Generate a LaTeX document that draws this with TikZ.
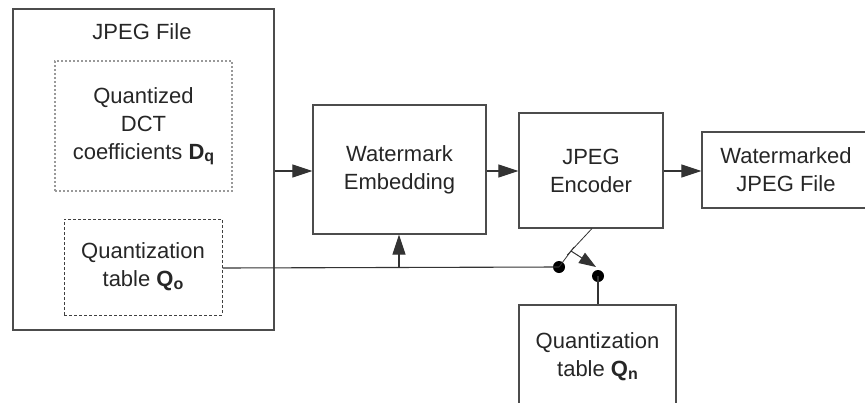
\documentclass[tikz,border=0pt]{standalone}
\usepackage{fontspec}
\setmainfont{Liberation Sans}
\usetikzlibrary{arrows.meta,calc}
\newcommand{\lbl}[2]{\textbf{#1}\raisebox{-2.5pt}{\fontsize{16}{16}\selectfont\bfseries #2}}
\begin{document}
\begin{tikzpicture}[x=1pt,y=-1pt,
  every node/.style={font=\fontsize{22}{28}\selectfont, text=black!85, inner sep=0pt},
  block/.style={draw=black!70, line width=1.3pt, align=center},
  dotbox/.style={draw=black!40, line width=1.4pt, dash pattern=on 2pt off 2pt, align=center},
  dashbox/.style={draw=black!75, line width=1pt, dash pattern=on 3pt off 2pt, align=center},
  wire/.style={draw=black!80, line width=1.1pt},
  flow/.style={wire, -{Triangle[length=20pt,width=13pt]}},
  junction/.style={circle, fill=black, minimum size=12pt, inner sep=0pt}]
  \useasboundingbox (0,0) rectangle (865,402);
  \clip (0,0) rectangle (865,402);

  % input file with its two parts
  \node[block, minimum width=261pt, minimum height=321pt] (file) at (143.5,169.5) {};
  \node (filetitle) at (142,32) {JPEG File};
  \node[dotbox, minimum width=177pt, minimum height=130pt] (dq) at (143.5,126)
    {Quantized\\DCT\\coefficients \lbl{D}{q}};
  \node[dashbox, minimum width=158pt, minimum height=96pt] (qo) at (143,267)
    {Quantization\\table \lbl{Q}{o}};

  % processing chain
  \node[block, minimum width=173pt, minimum height=129pt] (embed) at (399.5,169.5)
    {Watermark\\Embedding};
  \node[block, minimum width=144pt, minimum height=115pt] (enc) at (591,170.5)
    {JPEG\\Encoder};
  \node[block, minimum width=168pt, minimum height=76pt] (out) at (786,170)
    {Watermarked\\JPEG File};
  \node[block, minimum width=157pt, minimum height=104pt] (qn) at (597.5,357)
    {Quantization\\table \lbl{Q}{n}};

  \draw[flow] (file.east |- 0,171) -- (embed.west |- 0,171);
  \draw[flow] (embed.east |- 0,171) -- (enc.west |- 0,171);
  \draw[flow] (enc.east |- 0,171) -- (out.west |- 0,171);

  % table switch
  \node[junction] (swa) at (559,267) {};
  \node[junction] (swb) at (598,276) {};
  \coordinate (pivot) at (571,251);
  \coordinate (encin) at (592,228.5);
  \coordinate (tap) at (399,268);

  \draw[wire] (qo.east |- 0,268) -- (swa.center);
  \draw[flow] (tap) -- (tap |- embed.south);
  \draw[wire] (swb.center) -- (swb |- qn.north);
  \draw[wire, line width=0.8pt] (encin) -- ($(encin)!1.18!(pivot)$);
  \draw[wire, line width=0.8pt] (swa.center) -- ($(swa.center)!1.25!(pivot)$);
  \draw[wire, line width=1pt, -{Triangle[length=17pt,width=12pt]}] (pivot) -- (596,267);
\end{tikzpicture}
\end{document}
